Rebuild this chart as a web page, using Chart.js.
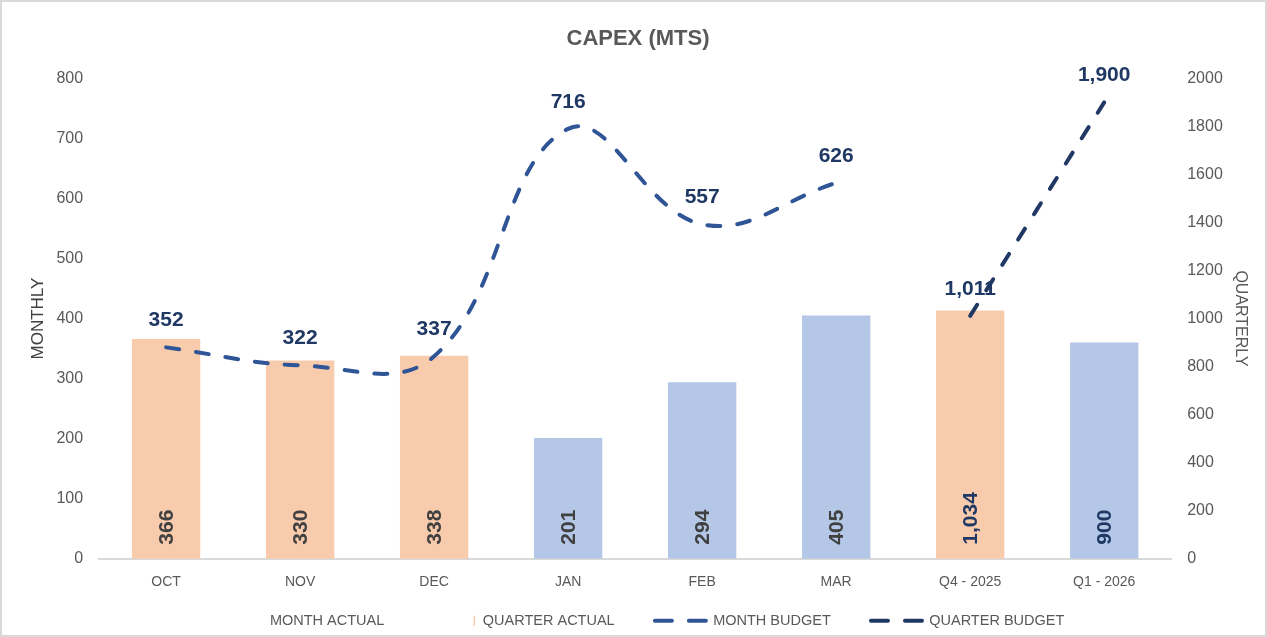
<!DOCTYPE html>
<html>
<head>
<meta charset="utf-8">
<script src="https://cdn.jsdelivr.net/npm/chart.js@4/dist/chart.umd.min.js"></script>
<style>
  body { margin: 0; background: #fff; }
  #wrap { width: 1267px; height: 637px; position: relative; }
</style>
</head>
<body>
<div id="wrap"><canvas id="capexChart"></canvas></div>
<script>
// chart data
const categories = ['OCT', 'NOV', 'DEC', 'JAN', 'FEB', 'MAR', 'Q4 - 2025', 'Q1 - 2026'];
const monthActual = [366, 330, 338, 201, 294, 405, null, null];
const quarterActual = [null, null, null, null, null, null, 1034, 900];
const monthBudget = [352, 322, 337, 716, 557, 626, null, null];
const quarterBudget = [null, null, null, null, null, null, 1011, 1900];
const monthlyTicks = [0, 100, 200, 300, 400, 500, 600, 700, 800];
const quarterlyTicks = [0, 200, 400, 600, 800, 1000, 1200, 1400, 1600, 1800, 2000];
const q4Periods = ['OCT', 'NOV', 'DEC', 'Q4 - 2025']; // shown in orange

const ORANGE = '#F8CBAD';
const BLUE = '#B4C7E7';
const MONTH_LINE = '#2F5597';
const QUARTER_LINE = '#203864';
const FONT = "'Liberation Sans', Arial, sans-serif";
const GAP = '        '; // extra room between legend items

const barColor = (c) => q4Periods.includes(categories[c.dataIndex]) ? ORANGE : BLUE;

// value labels: rotated inside bars, above points on the lines
const valueLabels = {
  id: 'valueLabels',
  afterDatasetsDraw(chart) {
    const ctx = chart.ctx;
    chart.data.datasets.forEach((ds, i) => {
      const meta = chart.getDatasetMeta(i);
      meta.data.forEach((el, j) => {
        const v = ds.data[j];
        if (v === null || v === undefined) return;
        const txt = v.toLocaleString('en-US');
        ctx.save();
        ctx.font = 'bold 21px ' + FONT;
        if (ds.type === 'bar') {
          ctx.fillStyle = ds.yAxisID === 'y1' ? '#1F3864' : '#404040';
          ctx.translate(el.x, el.base - 14);
          ctx.rotate(-Math.PI / 2);
          ctx.textAlign = 'left';
          ctx.textBaseline = 'middle';
          ctx.fillText(txt, 0, 1);
        } else {
          ctx.fillStyle = '#1F3864';
          ctx.textAlign = 'center';
          ctx.textBaseline = 'middle';
          ctx.fillText(txt, el.x, el.y - 27);
        }
        ctx.restore();
      });
    });
  }
};

// white background with light frame
const frame = {
  id: 'frame',
  beforeDraw(chart) {
    const ctx = chart.ctx;
    ctx.save();
    ctx.fillStyle = '#fff';
    ctx.fillRect(0, 0, chart.width, chart.height);
    ctx.strokeStyle = '#D9D9D9';
    ctx.lineWidth = 2;
    ctx.strokeRect(1, 1, chart.width - 2, chart.height - 2);
    ctx.restore();
  }
};

const ctx = document.getElementById('capexChart');
new Chart(ctx, {
  data: {
    labels: categories,
    datasets: [
      {
        type: 'bar',
        label: 'MONTH ACTUAL',
        data: monthActual,
        yAxisID: 'y',
        backgroundColor: barColor,
        barPercentage: 0.51,
        categoryPercentage: 1,
        grouped: false,
        order: 2
      },
      {
        type: 'bar',
        label: 'QUARTER ACTUAL',
        data: quarterActual,
        yAxisID: 'y1',
        backgroundColor: barColor,
        barPercentage: 0.51,
        categoryPercentage: 1,
        grouped: false,
        order: 2
      },
      {
        type: 'line',
        label: 'MONTH BUDGET',
        data: monthBudget,
        yAxisID: 'y',
        borderColor: MONTH_LINE,
        borderWidth: 4,
        borderDash: [13, 17],
        borderCapStyle: 'round',
        tension: 0.4,
        pointRadius: 0,
        order: 1
      },
      {
        type: 'line',
        label: 'QUARTER BUDGET',
        data: quarterBudget,
        yAxisID: 'y1',
        borderColor: QUARTER_LINE,
        borderWidth: 4,
        borderDash: [13, 17],
        borderCapStyle: 'round',
        tension: 0.4,
        pointRadius: 0,
        order: 1
      }
    ]
  },
  options: {
    responsive: true,
    maintainAspectRatio: false,
    animation: false,
    layout: { padding: { left: 24, right: 15, top: 10, bottom: -1 } },
    plugins: {
      title: {
        display: true,
        text: 'CAPEX (MTS)',
        color: '#595959',
        font: { family: FONT, size: 22, weight: 'bold' },
        padding: { top: 16, bottom: 26 }
      },
      legend: {
        position: 'bottom',
        labels: {
          color: '#595959',
          font: { family: FONT, size: 14.5 },
          usePointStyle: true,
          pointStyleWidth: 51,
          padding: 8,
          generateLabels: (chart) => [
            { text: 'MONTH ACTUAL' + GAP, pointStyle: 'line', strokeStyle: 'rgba(0,0,0,0)', lineWidth: 1, fontColor: '#595959', datasetIndex: 0 },
            { text: 'QUARTER ACTUAL' + GAP, pointStyle: 'line', strokeStyle: ORANGE, lineWidth: 10, lineCap: 'butt', lineDash: [0, 49, 1.5, 100], fontColor: '#595959', datasetIndex: 1 },
            { text: 'MONTH BUDGET' + GAP, pointStyle: 'line', strokeStyle: MONTH_LINE, lineWidth: 4, lineCap: 'round', lineDash: [17, 17], fontColor: '#595959', datasetIndex: 2 },
            { text: 'QUARTER BUDGET', pointStyle: 'line', strokeStyle: QUARTER_LINE, lineWidth: 4, lineCap: 'round', lineDash: [17, 17], fontColor: '#595959', datasetIndex: 3 }
          ]
        }
      },
      tooltip: { enabled: false }
    },
    scales: {
      x: {
        grid: { display: false, drawTicks: false },
        border: { color: '#D9D9D9', width: 2 },
        ticks: { color: '#595959', font: { family: FONT, size: 14 }, padding: 15 }
      },
      y: {
        position: 'left',
        min: monthlyTicks[0],
        max: monthlyTicks[monthlyTicks.length - 1],
        afterBuildTicks: (axis) => { axis.ticks = monthlyTicks.map(v => ({ value: v })); },
        grid: { display: false, drawTicks: false },
        border: { display: false },
        ticks: { color: '#595959', font: { family: FONT, size: 16 }, padding: 16, callback: (v) => String(v) },
        title: { display: true, text: 'MONTHLY', color: '#404040', font: { family: FONT, size: 17 }, padding: { top: 4, bottom: -8 } }
      },
      y1: {
        position: 'right',
        min: quarterlyTicks[0],
        max: quarterlyTicks[quarterlyTicks.length - 1],
        afterBuildTicks: (axis) => { axis.ticks = quarterlyTicks.map(v => ({ value: v })); },
        grid: { display: false, drawTicks: false },
        border: { display: false },
        ticks: { color: '#595959', font: { family: FONT, size: 16 }, padding: 16, callback: (v) => String(v) },
        title: { display: true, text: 'QUARTERLY', color: '#595959', font: { family: FONT, size: 16 }, padding: { top: 2, bottom: -8 } }
      }
    }
  },
  plugins: [frame, valueLabels]
});
</script>
</body>
</html>
